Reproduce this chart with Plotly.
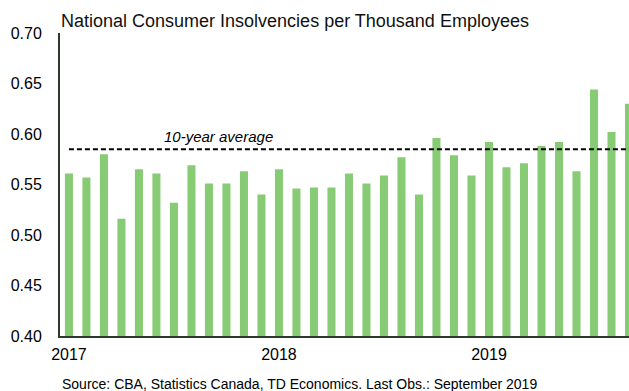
import plotly.graph_objects as go

months = [f"{y}-{m:02d}" for y in (2017, 2018, 2019) for m in range(1, 13)][:33]
values = [0.561, 0.557, 0.580, 0.516, 0.565, 0.561, 0.532, 0.569, 0.551, 0.551,
          0.563, 0.540, 0.565, 0.546, 0.547, 0.547, 0.561, 0.551, 0.559, 0.577,
          0.540, 0.596, 0.579, 0.559, 0.592, 0.567, 0.571, 0.588, 0.592, 0.563,
          0.644, 0.602, 0.630]
avg_10yr = 0.585
tick_months = ["2017-01", "2018-01", "2019-01"]
tick_labels = ["2017", "2018", "2019"]
y_ticks = [0.40, 0.45, 0.50, 0.55, 0.60, 0.65, 0.70]

FONT = "Liberation Sans, Arial, sans-serif"
AXIS_COLOR = "#2b3a2b"

fig = go.Figure()
fig.add_trace(go.Bar(x=months, y=values, marker_color="#88cb75",
                     marker_line_width=0, width=0.46, showlegend=False))
fig.add_trace(go.Scatter(x=[months[0], months[-1]], y=[avg_10yr, avg_10yr],
                         mode="lines", line=dict(color="black", width=2, dash="5px,3px"),
                         showlegend=False, cliponaxis=False))

fig.update_layout(
    width=629, height=391,
    margin=dict(l=60, r=0, t=33, b=55),
    paper_bgcolor="white", plot_bgcolor="white",
    font=dict(family=FONT, color="black"),
    xaxis=dict(type="category", range=[-0.51, 32.0],
               tickvals=tick_months, ticktext=tick_labels,
               showline=True, linecolor=AXIS_COLOR, linewidth=2,
               ticks="outside", ticklen=3, tickcolor="rgba(0,0,0,0)",
               showgrid=False, tickfont=dict(size=16, color="black"),
               zeroline=False),
    yaxis=dict(range=[0.40, 0.70], tickvals=y_ticks, tickformat=".2f",
               showline=True, linecolor=AXIS_COLOR, linewidth=2,
               ticks="outside", ticklen=13, tickcolor="rgba(0,0,0,0)",
               showgrid=False, zeroline=False,
               tickfont=dict(size=16, color="black")),
    annotations=[
        dict(text="National Consumer Insolvencies per Thousand Employees",
             xref="paper", yref="paper", x=0, y=1, xshift=-1, yshift=0,
             xanchor="left", yanchor="bottom", showarrow=False,
             font=dict(size=18, color="#111111")),
        dict(text="<i>10-year average</i>", xref="x", yref="y",
             x=months[8], y=avg_10yr, xanchor="center", yanchor="bottom",
             xshift=10, yshift=2, showarrow=False, font=dict(size=15)),
        dict(text="Source: CBA, Statistics Canada, TD Economics. Last Obs.: September 2019",
             xref="paper", yref="paper", x=0, y=0, xanchor="left", yanchor="top",
             yshift=-38, showarrow=False, font=dict(size=14)),
    ],
)

fig.write_html("out.html")
